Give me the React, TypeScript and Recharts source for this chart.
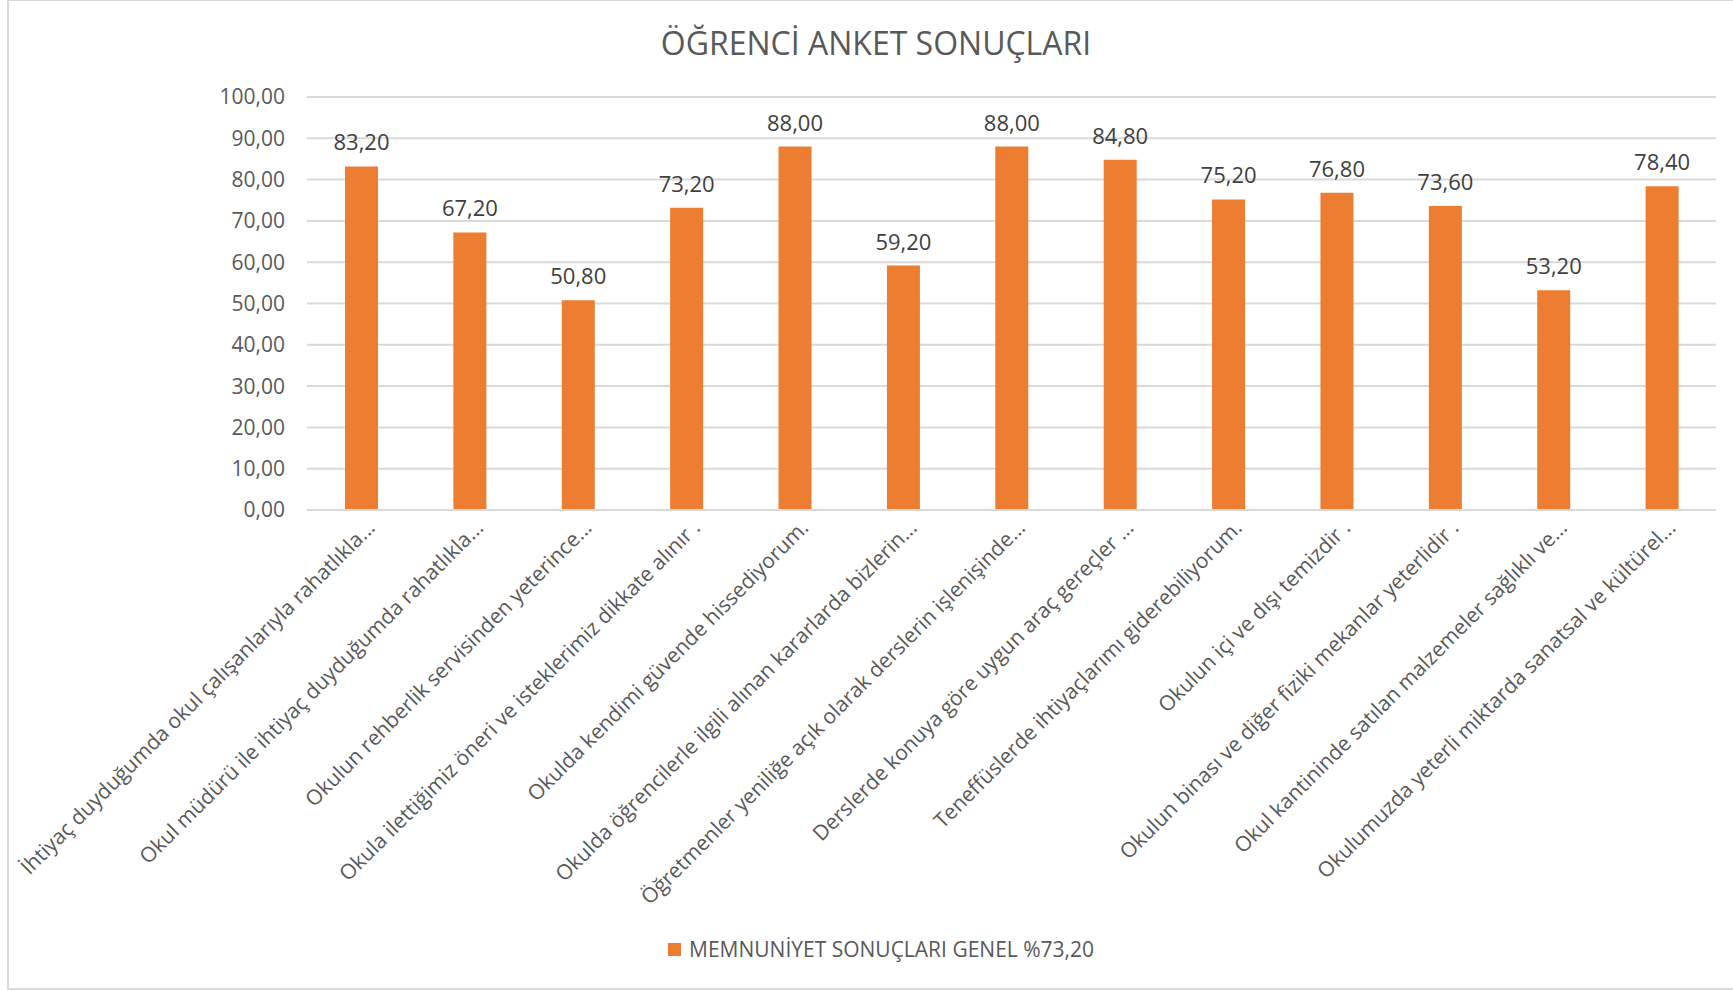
import { BarChart, Bar, XAxis, YAxis, CartesianGrid, LabelList, Legend } from "recharts";

const TITLE = "ÖĞRENCİ ANKET SONUÇLARI";
const SERIES_NAME = "MEMNUNİYET SONUÇLARI GENEL %73,20";

const questions = [
  "İhtiyaç duyduğumda okul çalışanlarıyla rahatlıkla...",
  "Okul müdürü ile ihtiyaç duyduğumda rahatlıkla...",
  "Okulun rehberlik servisinden yeterince...",
  "Okula ilettiğimiz öneri ve isteklerimiz dikkate alınır .",
  "Okulda kendimi güvende hissediyorum.",
  "Okulda öğrencilerle ilgili alınan kararlarda bizlerin...",
  "Öğretmenler yeniliğe açık olarak derslerin işlenişinde...",
  "Derslerde konuya göre uygun araç gereçler ...",
  "Teneffüslerde ihtiyaçlarımı giderebiliyorum.",
  "Okulun içi ve dışı temizdir .",
  "Okulun binası ve diğer fiziki mekanlar yeterlidir .",
  "Okul kantininde satılan malzemeler sağlıklı ve...",
  "Okulumuzda yeterli miktarda sanatsal ve kültürel...",
];

const scores = [83.2, 67.2, 50.8, 73.2, 88.0, 59.2, 88.0, 84.8, 75.2, 76.8, 73.6, 53.2, 78.4];

const yTicks = [0, 10, 20, 30, 40, 50, 60, 70, 80, 90, 100];

const data = questions.map((name, i) => ({ name, value: scores[i] }));

const FONT = "'Open Sans', sans-serif";
const ORANGE = "#ED7D31";
const GRID = "#D9D9D9";
const TEXT = "#595959";

const fmt = (v: number) => v.toFixed(2).replace(".", ",");

function SlantTick({ x, y, payload }: any) {
  const ax = x + 15;
  const ay = y + 19;
  return (
    <text
      x={ax}
      y={ay}
      textAnchor="end"
      transform={`rotate(-45, ${ax}, ${ay})`}
      fill={TEXT}
      fontSize={21}
      fontFamily={FONT}
    >
      {payload.value}
    </text>
  );
}

function LegendBox({ payload }: any) {
  return (
    <div style={{ display: "flex", alignItems: "center", fontFamily: FONT, fontSize: 21, lineHeight: "21px", color: TEXT }}>
      {(payload || []).map((p: any) => (
        <div key={p.value} style={{ display: "flex", alignItems: "center" }}>
          <span style={{ width: 13, height: 13, background: p.color, marginRight: 8, display: "inline-block" }} />
          <span>{p.value}</span>
        </div>
      ))}
    </div>
  );
}

export default function App() {
  return (
    <div style={{ position: "absolute", left: 0, top: 0, width: 1733, height: 991, background: "#fff", overflow: "hidden" }}>
      <div
        style={{
          position: "absolute",
          left: 7,
          top: -1,
          width: 1780,
          height: 991,
          boxSizing: "border-box",
          border: `2px solid ${GRID}`,
        }}
      />
      <svg width={1733} height={991} style={{ position: "absolute", left: 0, top: 0 }}>
        <text x={876} y={55} textAnchor="middle" fontFamily={FONT} fontSize={32} fill={TEXT}>
          {TITLE}
        </text>
      </svg>
      <div style={{ position: "absolute", left: 0, top: 0 }}>
        <BarChart width={1733} height={991} data={data} margin={{ top: 97, right: 17, left: 0, bottom: 81 }}>
          <CartesianGrid vertical={false} stroke={GRID} strokeWidth={2} />
          <XAxis
            dataKey="name"
            interval={0}
            height={400}
            tickLine={false}
            tickSize={0}
            tickMargin={0}
            axisLine={{ stroke: GRID, strokeWidth: 2 }}
            tick={<SlantTick />}
          />
          <YAxis
            domain={[0, 100]}
            ticks={yTicks}
            width={307}
            axisLine={false}
            tickLine={false}
            tickSize={0}
            tickMargin={22}
            tickFormatter={fmt}
            tick={{ fill: TEXT, fontSize: 21, fontFamily: FONT }}
          />
          <Legend
            verticalAlign="middle"
            align="center"
            wrapperStyle={{ left: 668, top: 939, width: 600 }}
            content={<LegendBox />}
          />
          <Bar dataKey="value" name={SERIES_NAME} fill={ORANGE} barSize={33} isAnimationActive={false}>
            <LabelList
              dataKey="value"
              position="top"
              offset={16}
              formatter={(v: any) => fmt(Number(v))}
              fill="#404040"
              fontSize={22}
              fontFamily={FONT}
            />
          </Bar>
        </BarChart>
      </div>
    </div>
  );
}
